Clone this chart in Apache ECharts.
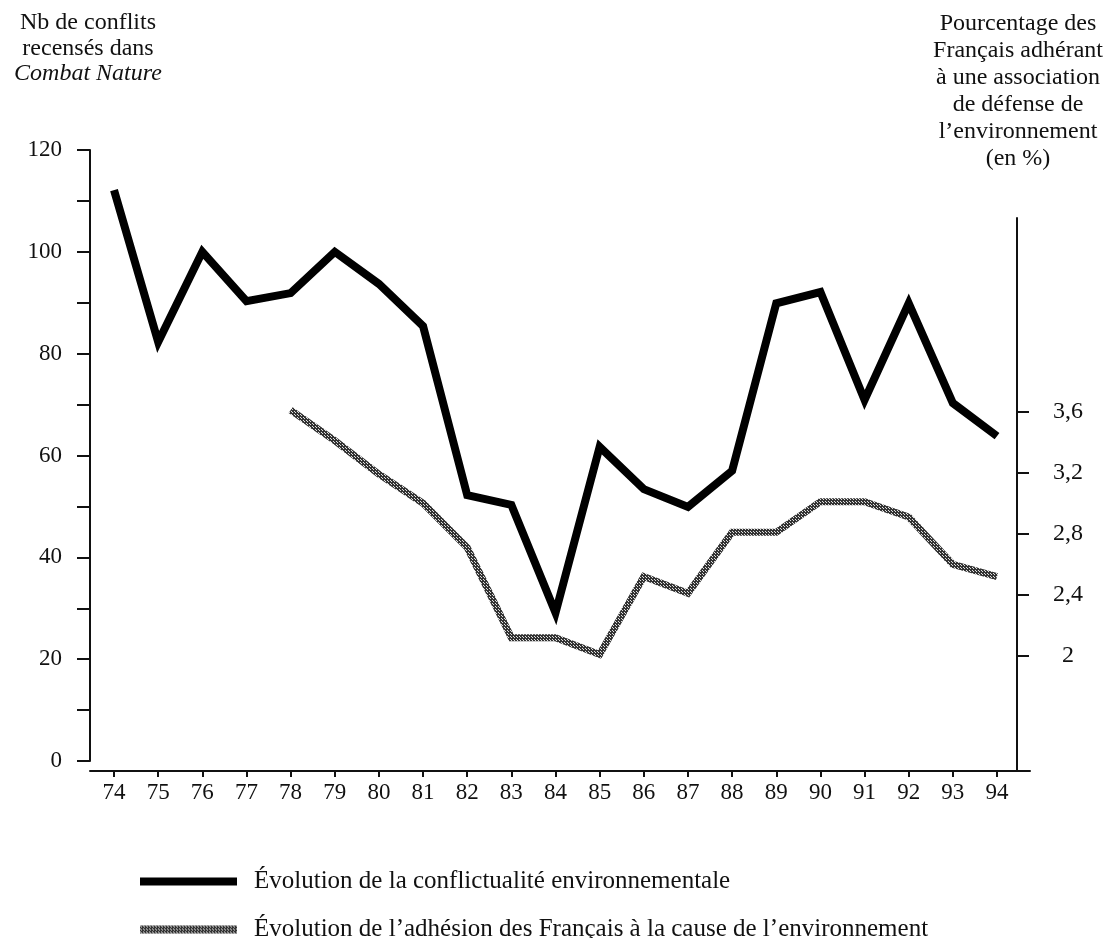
<!DOCTYPE html>
<html>
<head>
<meta charset="utf-8">
<script src="https://cdn.jsdelivr.net/npm/echarts@6/dist/echarts.min.js"></script>
<style>
html,body{margin:0;padding:0;background:#fff;}
#chart{width:1105px;height:938px;}
</style>
</head>
<body>
<div id="chart"></div>
<script>
// ---- data ----
const years = [74, 75, 76, 77, 78, 79, 80, 81, 82, 83, 84, 85, 86, 87, 88, 89, 90, 91, 92, 93, 94];
const conflicts = [112.1, 82.3, 100.0, 90.3, 91.9, 100.0, 93.7, 85.4, 52.2, 50.3, 29.1, 61.7, 53.4, 49.9, 57.0, 89.9, 92.1, 70.9, 89.9, 70.3, 63.8];
const adhesionYears = [78, 79, 80, 81, 82, 83, 84, 85, 86, 87, 88, 89, 90, 91, 92, 93, 94];
const adhesion = [3.61, 3.41, 3.19, 3.0, 2.71, 2.12, 2.12, 2.01, 2.52, 2.41, 2.81, 2.81, 3.01, 3.01, 2.91, 2.60, 2.52];
const rightTicks = [2, 2.4, 2.8, 3.2, 3.6];
const seriesNames = [
  'Évolution de la conflictualité environnementale',
  'Évolution de l\u2019adhésion des Français à la cause de l\u2019environnement'
];

// stippled texture for the grey line
function makePattern() {
  const c = document.createElement('canvas');
  c.width = 3; c.height = 3;
  const ctx = c.getContext('2d');
  ctx.fillStyle = '#333333';
  ctx.fillRect(0, 0, 3, 3);
  ctx.fillStyle = '#e0e0e0';
  ctx.fillRect(1, 1, 1, 1);
  ctx.fillRect(0, 0, 1, 1);
  return c;
}
const pattern = { image: makePattern(), repeat: 'repeat' };

const FONT = '"Liberation Serif", "DejaVu Serif", serif';
const chart = echarts.init(document.getElementById('chart'), null, { renderer: 'canvas' });

const fmtRight = v => (Math.abs(v - Math.round(v)) < 1e-9 ? String(Math.round(v)) : v.toFixed(1).replace('.', ','));

const legendBase = {
  orient: 'vertical',
  left: 135,
  itemWidth: 97, itemHeight: 8,
  icon: 'rect',
  selectedMode: false,
  textStyle: { fontFamily: FONT, fontSize: 25, color: '#111', padding: [0, 0, 0, 12] }
};

chart.setOption({
  backgroundColor: '#fff',
  animation: false,
  textStyle: { fontFamily: FONT, color: '#111' },
  title: [
    {
      text: 'Nb de conflits\nrecensés dans\n{i|Combat Nature}',
      left: 83, top: 5, textAlign: 'center',
      textStyle: {
        fontFamily: FONT, fontSize: 24, fontWeight: 'normal', color: '#111', lineHeight: 25.5,
        rich: { i: { fontFamily: FONT, fontSize: 24, fontStyle: 'italic', color: '#111', lineHeight: 25.5 } }
      }
    },
    {
      text: 'Pourcentage des\nFrançais adhérant\nà une association\nde défense de\nl\u2019environnement\n(en %)',
      left: 1013, top: 5, textAlign: 'center',
      textStyle: { fontFamily: FONT, fontSize: 24, fontWeight: 'normal', color: '#111', lineHeight: 27 }
    }
  ],
  legend: [
    Object.assign({}, legendBase, { top: 864, data: [seriesNames[0]] }),
    Object.assign({}, legendBase, { top: 912, data: [seriesNames[1]] })
  ],
  grid: [
    { left: 90, right: 75, top: 150, bottom: 177 },
    { left: 90, right: 88, top: 218, bottom: 167 }
  ],
  xAxis: [
    {
      type: 'value', gridIndex: 0,
      min: 73.456, max: 94.747,
      offset: 10,
      splitLine: { show: false },
      axisLine: { show: true, onZero: false, lineStyle: { color: '#111', width: 2 } },
      axisTick: { show: true, inside: false, length: 6, customValues: years, lineStyle: { color: '#111', width: 2 } },
      axisLabel: { customValues: years, margin: 10, fontSize: 23, fontFamily: FONT, color: '#111', formatter: v => String(Math.round(v)) }
    },
    {
      type: 'value', gridIndex: 1,
      min: 73.456, max: 94.453,
      show: false
    }
  ],
  yAxis: [
    {
      type: 'value', gridIndex: 0, position: 'left',
      min: 0, max: 120, interval: 20,
      splitLine: { show: false },
      axisLine: { show: true, lineStyle: { color: '#111', width: 2 } },
      axisTick: { show: true, inside: false, length: 13, lineStyle: { color: '#111', width: 2 } },
      minorTick: { show: true, splitNumber: 2, length: 13, lineStyle: { color: '#111', width: 2 } },
      axisLabel: { margin: 28, fontSize: 23, fontFamily: FONT, color: '#111' }
    },
    {
      type: 'value', gridIndex: 1, position: 'right',
      min: 1.2469, max: 4.868,
      splitLine: { show: false },
      axisLine: { show: true, lineStyle: { color: '#111', width: 2 } },
      axisTick: { show: true, inside: false, length: 12, customValues: rightTicks, lineStyle: { color: '#111', width: 2 } },
      axisLabel: { customValues: rightTicks, margin: 51, align: 'center', fontSize: 24, fontFamily: FONT, color: '#111', formatter: fmtRight }
    }
  ],
  series: [
    {
      name: seriesNames[0],
      type: 'line',
      xAxisIndex: 0, yAxisIndex: 0,
      data: years.map((y, i) => [y, conflicts[i]]),
      showSymbol: false, symbol: 'none',
      lineStyle: { color: '#000', width: 8, join: 'miter', cap: 'butt' },
      itemStyle: { color: '#000' }
    },
    {
      name: seriesNames[1],
      type: 'line',
      xAxisIndex: 1, yAxisIndex: 1,
      data: adhesionYears.map((y, i) => [y, adhesion[i]]),
      showSymbol: false, symbol: 'none',
      lineStyle: { color: pattern, width: 7, join: 'miter' },
      itemStyle: { color: pattern }
    }
  ]
});
</script>
</body>
</html>
